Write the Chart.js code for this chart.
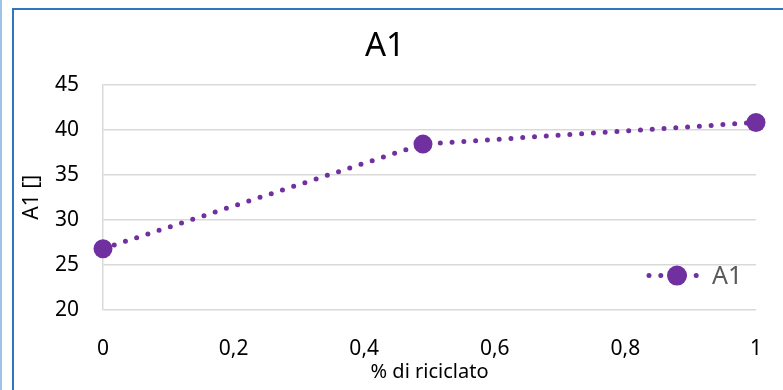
<!DOCTYPE html>
<html>
<head>
<meta charset="utf-8">
<script src="https://cdn.jsdelivr.net/npm/chart.js@4.4.1/dist/chart.umd.min.js"></script>
<style>
  html, body { margin: 0; padding: 0; background: #fff; }
  #wrap { position: relative; width: 783px; height: 390px; overflow: hidden; }
  #edge { position: absolute; left: 0; top: 0; width: 2px; height: 390px; background: #9dc3e6; }
  #frame { position: absolute; left: 12px; top: 8px; width: 800px; height: 420px; border: 2px solid #2f75c0; box-sizing: border-box; }
  #myChart { position: absolute; left: 0; top: 0; }
</style>
</head>
<body>
<div id="wrap">
  <div id="edge"></div>
  <div id="frame"></div>
  <canvas id="myChart" width="783" height="390"></canvas>
</div>
<script>
// data
const seriesName = 'A1';
const recycled = [0, 0.49, 1];          // % di riciclato
const a1Values = [26.8, 38.4, 40.8];    // A1 []
const xTicks = [0, 0.2, 0.4, 0.6, 0.8, 1];
const yTicks = [20, 25, 30, 35, 40, 45];

const purple = '#7030a0';
const font = '"Noto Sans", sans-serif';

// legend drawn inside the plot, bottom right like Excel
const insideLegend = {
    id: 'insideLegend',
    afterDraw(chart) {
        const ctx = chart.ctx;
        const ds = chart.data.datasets[0];
        const area = chart.chartArea;
        const y = area.top + 191;
        const x0 = area.right - 107;
        ctx.save();
        ctx.strokeStyle = ds.borderColor;
        ctx.lineWidth = ds.borderWidth;
        ctx.lineCap = 'round';
        ctx.setLineDash(ds.borderDash);
        ctx.beginPath();
        ctx.moveTo(x0, y);
        ctx.lineTo(x0 + 50, y);
        ctx.stroke();
        ctx.setLineDash([]);
        ctx.fillStyle = ds.pointBackgroundColor;
        ctx.beginPath();
        ctx.arc(x0 + 28, y, 10, 0, Math.PI * 2);
        ctx.fill();
        ctx.fillStyle = '#595959';
        ctx.font = '25px ' + font;
        ctx.textBaseline = 'middle';
        ctx.fillText(ds.label, x0 + 63, y + 1);
        ctx.restore();
    }
};

const ctx = document.getElementById('myChart').getContext('2d');
new Chart(ctx, {
    type: 'scatter',
    data: {
        datasets: [{
            label: seriesName,
            data: recycled.map((x, i) => ({ x: x, y: a1Values[i] })),
            showLine: true,
            borderColor: purple,
            borderWidth: 5,
            borderDash: [0, 11.8],
            borderCapStyle: 'round',
            pointRadius: 9.5,
            pointHoverRadius: 9.5,
            pointBackgroundColor: purple,
            pointBorderWidth: 0,
            clip: false
        }]
    },
    options: {
        responsive: false,
        animation: false,
        layout: { padding: { left: 14, right: 27, top: 0, bottom: 0 } },
        plugins: {
            legend: { display: false },
            tooltip: { enabled: false },
            title: {
                display: true,
                text: seriesName,
                color: '#000',
                font: { family: font, size: 33, weight: 'normal' },
                padding: { top: 27, bottom: 18 }
            }
        },
        scales: {
            x: {
                type: 'linear',
                min: 0,
                max: 1,
                afterBuildTicks: s => { s.ticks = xTicks.map(v => ({ value: v })); },
                afterFit: s => { s.height = 80; },
                grid: { display: false },
                border: { display: false },
                ticks: {
                    padding: 18,
                    color: '#000',
                    font: { family: font, size: 21 },
                    callback: v => String(v).replace('.', ',')
                },
                title: {
                    display: true,
                    text: '% di riciclato',
                    color: '#000',
                    font: { family: font, size: 20 },
                    padding: { top: 0, bottom: 6 }
                }
            },
            y: {
                min: 20,
                max: 45,
                afterBuildTicks: s => { s.ticks = yTicks.map(v => ({ value: v })); },
                afterFit: s => { s.width = 89; },
                grid: { color: '#d9d9d9', lineWidth: 1.5, drawTicks: false },
                border: { display: true, color: '#d9d9d9', width: 1.5 },
                ticks: {
                    padding: 24,
                    color: '#000',
                    font: { family: font, size: 21 }
                },
                title: {
                    display: true,
                    text: 'A1 []',
                    color: '#000',
                    font: { family: font, size: 21 },
                    padding: { top: 5, bottom: 0 }
                }
            }
        }
    },
    plugins: [insideLegend]
});
</script>
</body>
</html>
